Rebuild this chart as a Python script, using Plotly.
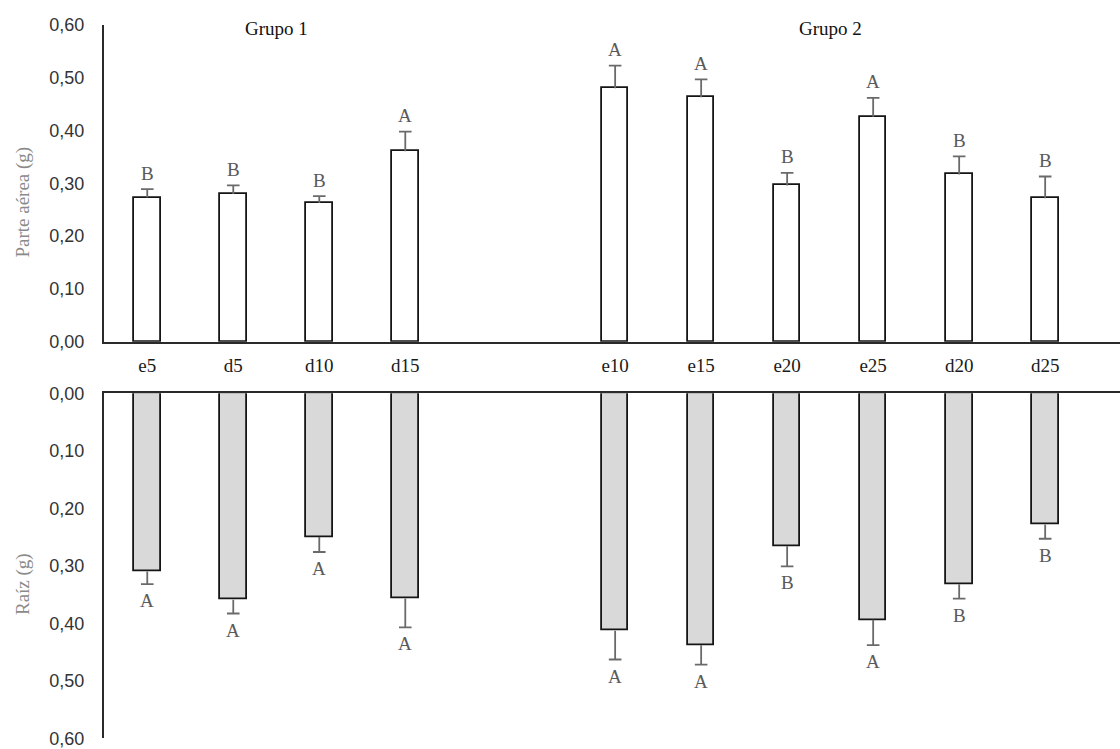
import plotly.graph_objects as go

# Treatments, split in two groups
group1 = ["e5", "d5", "d10", "d15"]
group2 = ["e10", "e15", "e20", "e25", "d20", "d25"]
categories = group1 + group2

# Shoot dry mass (g) with standard error and Tukey letters
shoot = [0.273, 0.280, 0.263, 0.361, 0.480, 0.463, 0.296, 0.426, 0.317, 0.272]
shoot_err = [0.016, 0.016, 0.013, 0.037, 0.043, 0.034, 0.024, 0.036, 0.034, 0.041]
shoot_letters = ["B", "B", "B", "A", "A", "A", "B", "A", "B", "B"]

# Root dry mass (g) with standard error and Tukey letters
root = [0.310, 0.359, 0.250, 0.357, 0.413, 0.438, 0.266, 0.394, 0.332, 0.228]
root_err = [0.022, 0.024, 0.026, 0.050, 0.050, 0.034, 0.035, 0.044, 0.025, 0.025]
root_letters = ["A", "A", "A", "A", "A", "A", "B", "A", "B", "B"]

y_ticks = [0.0, 0.1, 0.2, 0.3, 0.4, 0.5, 0.6]
y_ticktext = [f"{v:.2f}".replace(".", ",") for v in y_ticks]

# horizontal layout: unit spacing inside a group, wider gap between groups
GROUP_GAP = 2.44
xpos = list(range(len(group1))) + [len(group1) - 1 + GROUP_GAP + j for j in range(len(group2))]

SERIF = "Liberation Serif"
SANS = "Liberation Sans"
AXIS_COLOR = "#2a2a2a"
ERR_COLOR = "#6a6a6a"
LETTER_COLOR = "#5a5a5a"
TITLE_COLOR = "#8a8a8a"

fig = go.Figure()


def add_panel(values, errors, fill, xa, ya):
    # bars with a one-sided error stem (no caps on the bar itself)
    fig.add_trace(go.Bar(
        x=xpos, y=values, width=0.31,
        marker=dict(color=fill, line=dict(color="#151515", width=1.8)),
        error_y=dict(type="data", symmetric=False, array=errors,
                     arrayminus=[0] * len(errors),
                     color=ERR_COLOR, thickness=1.8, width=0),
        xaxis=xa, yaxis=ya, showlegend=False, hoverinfo="skip",
    ))
    # cap at the end of each error stem
    fig.add_trace(go.Scatter(
        x=xpos, y=[v + e for v, e in zip(values, errors)], mode="markers",
        marker=dict(symbol="line-ew", size=9, color=ERR_COLOR,
                    line=dict(color=ERR_COLOR, width=1.8)),
        xaxis=xa, yaxis=ya, showlegend=False, hoverinfo="skip",
    ))


add_panel(shoot, shoot_err, "white", "x", "y")
add_panel(root, root_err, "#d9d9d9", "x2", "y2")

annotations = []
for x, v, e, t in zip(xpos, shoot, shoot_err, shoot_letters):
    annotations.append(dict(x=x, y=v + e, xref="x", yref="y", text=t,
                            showarrow=False, yanchor="middle", yshift=16,
                            font=dict(family=SERIF, size=19, color=LETTER_COLOR)))
for x, v, e, t in zip(xpos, root, root_err, root_letters):
    annotations.append(dict(x=x, y=v + e, xref="x2", yref="y2", text=t,
                            showarrow=False, yanchor="middle", yshift=-16.5,
                            font=dict(family=SERIF, size=19, color=LETTER_COLOR)))

# group headers
annotations.append(dict(x=(xpos[0] + xpos[len(group1) - 1]) / 2, y=0.594, xref="x", yref="y",
                        text="Grupo 1", showarrow=False, yanchor="middle",
                        font=dict(family=SERIF, size=19, color="#111111")))
annotations.append(dict(x=(xpos[len(group1)] + xpos[-1]) / 2, y=0.594, xref="x", yref="y",
                        text="Grupo 2", showarrow=False, yanchor="middle",
                        font=dict(family=SERIF, size=19, color="#111111")))

# axis titles
annotations.append(dict(x=-0.0797, y=0.7296, xref="paper", yref="paper",
                        text="Parte aérea (g)", textangle=-90, showarrow=False,
                        xanchor="center", yanchor="middle",
                        font=dict(family=SERIF, size=19, color=TITLE_COLOR)))
annotations.append(dict(x=-0.0797, y=0.2203, xref="paper", yref="paper",
                        text="Raíz (g)", textangle=-90, showarrow=False,
                        xanchor="center", yanchor="middle",
                        font=dict(family=SERIF, size=19, color=TITLE_COLOR)))

x_range = [-0.503, 11.31]

common = dict(showgrid=False, zeroline=False, automargin=False,
              showline=True, linecolor=AXIS_COLOR, linewidth=2, ticks="")

fig.update_layout(
    template="none",
    width=1120, height=749,
    margin=dict(l=104, r=0, t=0, b=0, pad=0),
    paper_bgcolor="white", plot_bgcolor="white",
    bargap=0,
    annotations=annotations,
    xaxis=dict(domain=[0, 1], range=x_range, anchor="y",
               tickvals=xpos, ticktext=categories,
               tickfont=dict(family=SERIF, size=19, color="#1a1a1a"),
               ticklabelstandoff=6, **common),
    yaxis=dict(domain=[0.5438, 0.9666], range=[0, 0.6], anchor="x",
               tickvals=y_ticks, ticktext=y_ticktext,
               tickfont=dict(family=SANS, size=18, color="#333333"),
               ticklabelstandoff=14, **common),
    xaxis2=dict(domain=[0, 1], range=x_range, anchor="y2", side="top",
                showticklabels=False, **common),
    yaxis2=dict(domain=[0.01429, 0.4749], range=[0.6, 0], anchor="x2",
                tickvals=y_ticks, ticktext=y_ticktext,
                tickfont=dict(family=SANS, size=18, color="#333333"),
                ticklabelstandoff=14, **common),
)

fig.write_html("out.html")
